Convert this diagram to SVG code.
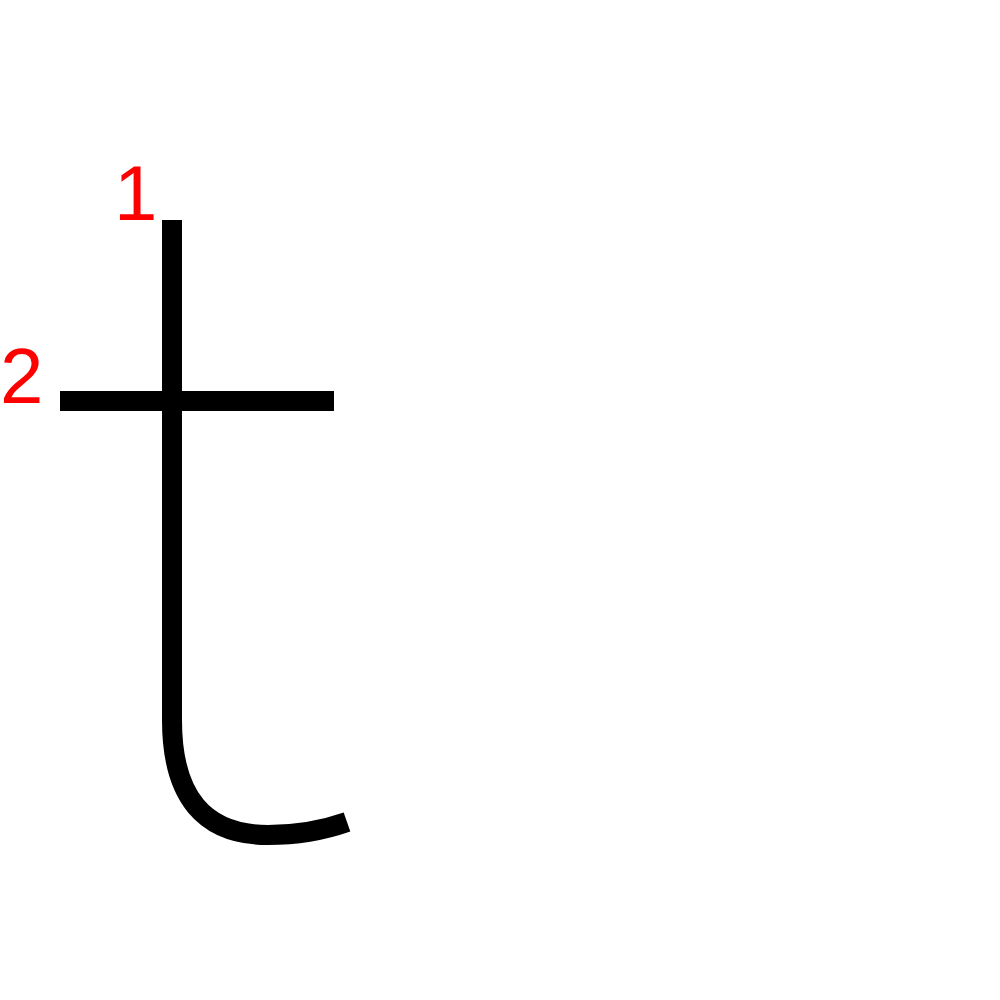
<svg xmlns="http://www.w3.org/2000/svg" width="1000" height="1000" viewBox="0 0 1000 1000">
<style>
.s{fill:none;stroke:#000;stroke-width:20;stroke-linecap:butt}
.n{fill:#f00;font-family:"Liberation Sans",Arial,sans-serif;font-size:78px}
</style>
<rect width="1000" height="1000" fill="#fff"/>
<g id="stroke1"><path class="s" d="M172,220 L172,720 Q172,835 268,835 Q310,835 347,822"/></g>
<g id="stroke2"><path class="s" d="M60,401 L334,401"/></g>
<g id="labels">
<text class="n" x="114" y="220">1</text>
<text class="n" x="0" y="403">2</text>
</g>
</svg>
